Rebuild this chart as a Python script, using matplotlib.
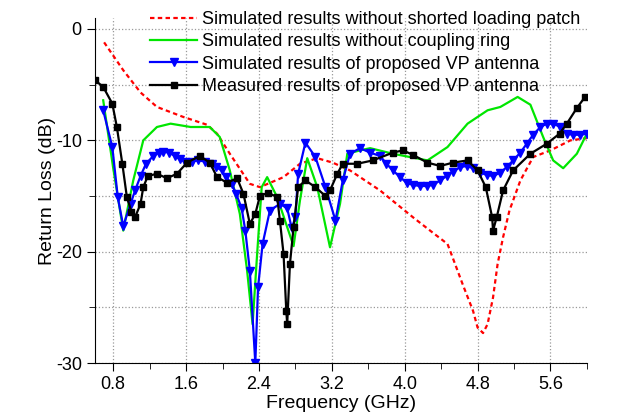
import matplotlib.pyplot as plt
from matplotlib.ticker import MultipleLocator, FixedLocator

plt.rcParams['font.family'] = ['Liberation Sans', 'DejaVu Sans']
plt.rcParams['axes.unicode_minus'] = False

# Data (frequency in GHz, return loss in dB)
f_red = [0.70, 0.91, 1.10, 1.28, 1.57, 1.83, 1.94, 2.08, 2.30, 2.41, 2.67, 2.85,
         3.04, 3.21, 3.40, 3.73, 4.09, 4.31, 4.47, 4.53, 4.64, 4.75, 4.80, 4.86,
         4.91, 4.97, 5.02, 5.08, 5.15, 5.27, 5.41, 5.60, 5.82, 6.00]
s_red = [-1.2, -3.7, -5.7, -7.0, -7.9, -8.6, -9.4, -11.2, -13.9, -14.2, -13.3, -12.1,
         -11.6, -12.0, -12.7, -14.5, -16.9, -18.3, -19.3, -20.6, -23.0, -25.3, -26.8, -27.3,
         -26.5, -24.1, -21.1, -18.7, -16.3, -13.6, -11.5, -10.9, -10.0, -9.8]

f_green = [0.69, 0.80, 0.91, 1.02, 1.13, 1.28, 1.43, 1.65, 1.86, 1.97, 2.08, 2.19,
           2.27, 2.33, 2.38, 2.43, 2.49, 2.60, 2.78, 2.85, 2.93, 3.04, 3.18, 3.29,
           3.37, 3.51, 3.62, 3.87, 4.25, 4.47, 4.69, 4.91, 5.05, 5.24, 5.38, 5.52,
           5.63, 5.74, 5.89, 6.00]
s_green = [-6.4, -12.5, -18.1, -13.6, -10.0, -8.8, -8.5, -8.8, -8.8, -9.7, -12.7, -16.6,
           -21.7, -26.5, -20.2, -14.2, -13.3, -15.1, -19.5, -15.4, -11.6, -14.2, -19.6, -15.7,
           -11.2, -10.9, -10.7, -11.2, -11.8, -10.6, -8.5, -7.3, -7.0, -6.1, -6.8, -9.7,
           -11.8, -12.5, -11.2, -9.4]

f_blue = [0.69, 0.79, 0.85, 0.91, 0.99, 1.04, 1.10, 1.16, 1.24, 1.30, 1.35, 1.41,
          1.48, 1.53, 1.59, 1.66, 1.73, 1.81, 1.88, 1.93, 1.99, 2.04, 2.10, 2.15,
          2.21, 2.25, 2.30, 2.36, 2.39, 2.44, 2.52, 2.63, 2.71, 2.76, 2.80,
          2.83, 2.91, 3.02, 3.13, 3.24, 3.32, 3.40, 3.51, 3.62, 3.73, 3.80, 3.87,
          3.95, 4.02, 4.09, 4.17, 4.24, 4.31, 4.39, 4.46, 4.53, 4.61, 4.68, 4.75,
          4.83, 4.90, 4.97, 5.05, 5.12, 5.19, 5.27, 5.34, 5.41, 5.49, 5.56, 5.63,
          5.71, 5.78, 5.85, 5.93, 6.00]
s_blue = [-7.3, -10.6, -15.1, -17.7, -15.7, -14.5, -13.2, -12.1, -11.4, -11.1, -11.0, -11.1,
          -11.4, -11.7, -11.9, -11.9, -11.8, -11.9, -12.1, -12.4, -12.7, -13.3, -13.9, -14.8,
          -16.1, -18.1, -21.7, -30.0, -23.2, -19.3, -16.3, -15.7, -16.1, -17.9, -16.9,
          -13.0, -10.2, -11.5, -14.2, -17.2, -13.6, -11.2, -10.7, -11.1, -11.4, -12.1, -12.7,
          -13.3, -13.8, -14.0, -14.1, -14.1, -14.0, -13.6, -13.2, -12.8, -12.4, -12.3, -12.5,
          -12.9, -13.1, -13.2, -12.9, -12.4, -11.8, -11.1, -10.3, -9.5, -8.8, -8.5, -8.5,
          -8.8, -9.4, -9.5, -9.5, -9.4]

f_meas = [0.60, 0.69, 0.79, 0.84, 0.90, 0.95, 1.00, 1.04, 1.10, 1.13, 1.18, 1.28,
          1.39, 1.50, 1.61, 1.75, 1.86, 1.94, 2.05, 2.16, 2.23, 2.30, 2.36, 2.41,
          2.50, 2.60, 2.63, 2.67, 2.70, 2.71, 2.74, 2.78, 2.83, 2.91, 3.02, 3.13,
          3.18, 3.26, 3.32, 3.48, 3.65, 3.87, 3.98, 4.09, 4.25, 4.39, 4.53, 4.69,
          4.80, 4.89, 4.96, 4.97, 5.01, 5.08, 5.19, 5.38, 5.56, 5.70, 5.78, 5.89, 5.98]
s_meas = [-4.6, -5.2, -6.7, -8.8, -12.1, -15.1, -16.4, -16.9, -15.7, -14.2, -13.2, -13.0,
          -13.4, -13.0, -12.0, -11.4, -12.0, -13.3, -13.8, -13.4, -14.8, -17.5, -16.6, -15.0,
          -14.7, -15.1, -17.2, -20.2, -25.3, -26.5, -21.1, -17.8, -14.2, -13.6, -14.2, -15.0,
          -14.5, -13.0, -12.1, -12.1, -11.8, -11.1, -10.9, -11.3, -12.0, -12.3, -12.0, -11.8,
          -12.7, -14.2, -16.9, -18.1, -16.9, -14.5, -12.7, -11.2, -10.3, -9.4, -8.5, -7.1, -6.1]

labels = ['Simulated results without shorted loading patch',
          'Simulated results without coupling ring',
          'Simulated results of proposed VP antenna',
          'Measured results of proposed VP antenna']

fig = plt.figure(figsize=(6.25, 4.15), dpi=100)
ax = fig.add_axes([0.152, 0.125, 0.787, 0.832])

ax.plot(f_red, s_red, color='#ff0000', ls=(0, (2, 1.5)), lw=1.6, label=labels[0])
ax.plot(f_green, s_green, color='#00e600', lw=1.6, label=labels[1])
ax.plot(f_blue, s_blue, color='#0000ff', lw=1.6, marker='v', ms=6, label=labels[2])
ax.plot(f_meas, s_meas, color='black', lw=1.6, marker='s', ms=4.5, label=labels[3])

ax.set_xlim(0.6, 6.0)
ax.set_ylim(-30, 1)
ax.xaxis.set_major_locator(FixedLocator([0.8, 1.6, 2.4, 3.2, 4.0, 4.8, 5.6]))
ax.xaxis.set_minor_locator(FixedLocator([1.2, 2.0, 2.8, 3.6, 4.4, 5.2, 6.0]))
ax.yaxis.set_major_locator(MultipleLocator(10))
ax.yaxis.set_minor_locator(MultipleLocator(5))
ax.tick_params(which='both', direction='out', labelsize=13)
ax.tick_params(which='major', length=6)
ax.tick_params(which='minor', length=4)

ax.grid(which='major', axis='x', ls=':', color='#999999', lw=0.9)
ax.grid(which='both', axis='y', ls=':', color='#999999', lw=0.9)

for s in ['top', 'right']:
    ax.spines[s].set_visible(False)

ax.set_xlabel('Frequency (GHz)', fontsize=14, labelpad=1)
ax.set_ylabel('Return Loss (dB)', fontsize=14)
ax.yaxis.set_label_coords(-0.08, 0.5)

ax.legend(loc='upper right', bbox_to_anchor=(0.945, 1.0), bbox_transform=fig.transFigure,
          fontsize=13, handlelength=2.6, labelspacing=0.3, handletextpad=0.25,
          borderpad=0.1, frameon=False)

plt.savefig('out.png', dpi=100)
